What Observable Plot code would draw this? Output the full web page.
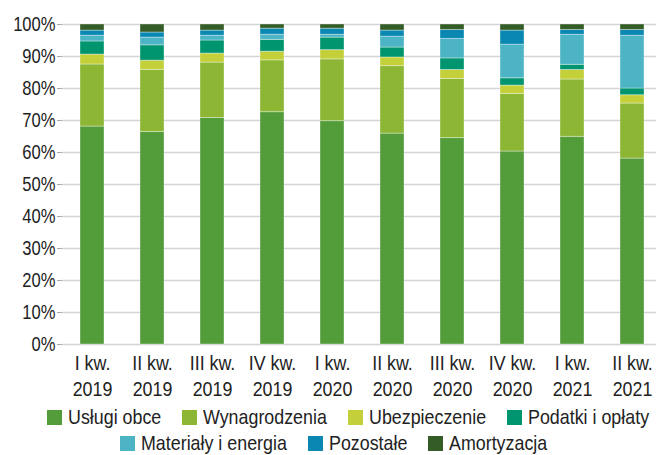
<!DOCTYPE html>
<html>
<head>
<meta charset="utf-8">
<script src="https://cdn.jsdelivr.net/npm/d3@7"></script>
<script src="https://cdn.jsdelivr.net/npm/@observablehq/plot@0.6"></script>
<style>
  html, body { margin: 0; padding: 0; background: #fff; }
  body { width: 656px; height: 455px; overflow: hidden; font-family: "Liberation Sans", Arial, sans-serif; color: #222; }
  #legend { font-size: 21px; line-height: 26px; padding-top: 4px; }
  .row { display: flex; column-gap: 21px; white-space: nowrap; }
  .item { display: flex; align-items: center; }
  .sw { width: 15px; height: 15px; margin-right: 6px; display: inline-block; flex: none; }
  .lbl { display: inline-block; transform-origin: 0 50%; }
</style>
</head>
<body>
<div id="chart"></div>
<div id="legend"></div>
<script>
const quarters = ["I kw.\n2019", "II kw.\n2019", "III kw.\n2019", "IV kw.\n2019", "I kw.\n2020", "II kw.\n2020", "III kw.\n2020", "IV kw.\n2020", "I kw.\n2021", "II kw.\n2021"];
const seriesNames = ["Usługi obce", "Wynagrodzenia", "Ubezpieczenie", "Podatki i opłaty", "Materiały i energia", "Pozostałe", "Amortyzacja"];
const seriesColors = ["#539c3a", "#8cb634", "#c4d03a", "#00956f", "#4cb4c4", "#0a88b2", "#335c26"];
const uslugi    = [68.1, 66.4, 70.8, 72.6, 69.8, 65.9, 64.5, 60.3, 64.9, 58.1];
const wynagr    = [19.4, 19.4, 17.3, 16.2, 19.3, 21.1, 18.5, 18.0, 17.9, 17.2];
const ubezp     = [3.1, 2.9, 2.8, 2.7, 2.9, 2.7, 2.8, 2.6, 3.0, 2.6];
const podatki   = [4.1, 4.8, 4.1, 3.7, 3.9, 3.1, 3.6, 2.3, 1.6, 2.1];
const materialy = [1.8, 2.4, 1.5, 1.6, 0.9, 3.4, 6.1, 10.5, 9.4, 16.5];
const pozostale = [1.6, 1.6, 1.6, 1.9, 1.9, 1.9, 2.8, 4.4, 1.5, 1.8];
const amort     = [1.9, 2.5, 1.9, 1.3, 1.3, 1.9, 1.7, 1.9, 1.7, 1.7];
const yTicks = [0, 10, 20, 30, 40, 50, 60, 70, 80, 90, 100];
const legendRows = [[0, 1, 2, 3], [4, 5, 6]];
const legendRowStart = [47, 120];
const NARROW = 0.85;

const seriesValues = [uslugi, wynagr, ubezp, podatki, materialy, pozostale, amort];
const data = [];
seriesNames.forEach((s, i) => quarters.forEach((q, j) => data.push({quarter: q, series: s, value: seriesValues[i][j]})));

const chart = Plot.plot({
  width: 656,
  height: 400,
  marginLeft: 62,
  marginRight: 0,
  marginTop: 24,
  marginBottom: 56,
  style: {fontFamily: '"Liberation Sans", Arial, sans-serif', fontSize: "20px", color: "#222", background: "#fff"},
  x: {domain: quarters, range: [62, 662], paddingInner: 0.6, paddingOuter: 0.3},
  y: {domain: [0, 100]},
  color: {domain: seriesNames, range: seriesColors},
  marks: [
    Plot.gridY(yTicks, {stroke: "#d4d4d4", strokeOpacity: 1, strokeWidth: 1.5}),
    Plot.barY(data, Plot.stackY({order: seriesNames}, {x: "quarter", y: "value", z: "series", fill: "series", stroke: "white", strokeOpacity: 0.35, strokeWidth: 1})),
    Plot.axisY(yTicks, {tickFormat: d => d + "%", tickSize: 5, tickPadding: 2, stroke: "#aaa", fill: "#222", fontSize: 19.5, label: null, ariaLabel: "y-axis"}),
    Plot.ruleY([0], {x1: 57, x2: 656, stroke: "#222", strokeWidth: 1.5}),
    Plot.axisX({tickSize: 0, tickPadding: 8, lineHeight: 1.2, fontSize: 21, fill: "#222", label: null, ariaLabel: "x-axis"})
  ]
});
document.getElementById("chart").appendChild(chart);

// condense axis texts horizontally (narrow face is not installed)
chart.querySelectorAll("text").forEach(t => {
  const tr = t.getAttribute("transform") || "";
  t.setAttribute("transform", (tr + ` scale(${NARROW},1)`).trim());
});

const legend = document.getElementById("legend");
legendRows.forEach((row, r) => {
  const rowEl = document.createElement("div");
  rowEl.className = "row";
  rowEl.style.paddingLeft = legendRowStart[r] + "px";
  legend.appendChild(rowEl);
  row.forEach(i => {
    const it = document.createElement("div");
    it.className = "item";
    const sw = document.createElement("span");
    sw.className = "sw";
    sw.style.background = seriesColors[i];
    const lb = document.createElement("span");
    lb.className = "lbl";
    lb.textContent = seriesNames[i];
    it.appendChild(sw);
    it.appendChild(lb);
    rowEl.appendChild(it);
    const w = lb.offsetWidth;
    lb.style.transform = `scaleX(${NARROW})`;
    lb.style.marginRight = (-(w * (1 - NARROW))) + "px";
  });
});
</script>
</body>
</html>
